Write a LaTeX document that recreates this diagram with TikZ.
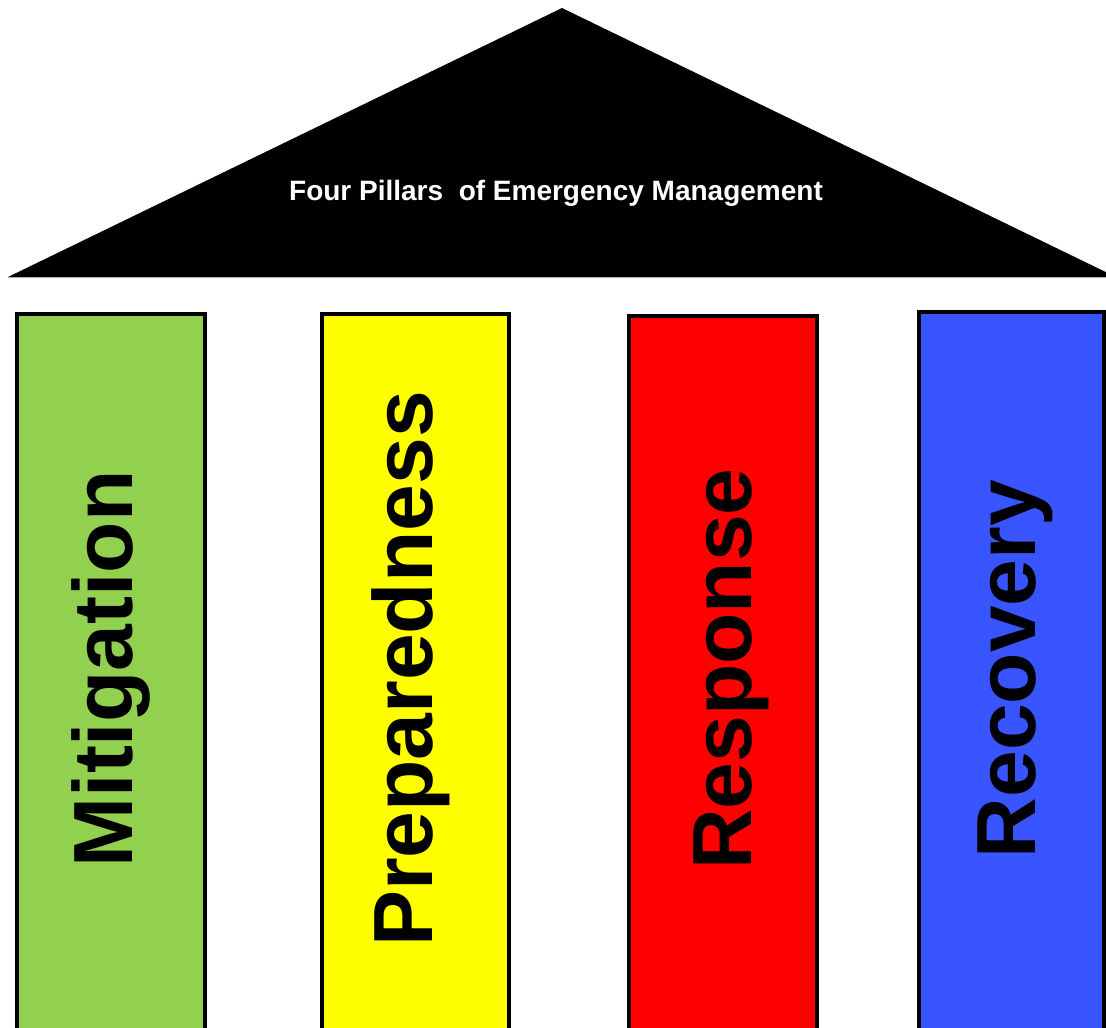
\documentclass[tikz,border=0pt]{standalone}
\usepackage{fontspec}
\setmainfont{Liberation Sans}
\usepackage{tikz}
\definecolor{mitigationgreen}{HTML}{92D050}
\definecolor{preparednessyellow}{HTML}{FFFF00}
\definecolor{responsered}{HTML}{FF0000}
\definecolor{recoveryblue}{HTML}{3955FF}
\tikzset{
	pillar/.style={line width=4pt, draw=black},
	pillarlabel/.style={rotate=90, anchor=base, inner sep=0pt, font=\fontsize{84}{84}\selectfont\bfseries}
}

\begin{document}
\begin{tikzpicture}[x=1pt, y=-1pt]
			%%%%% START %%%%%
			
			\useasboundingbox (0, 0) rectangle (1106, 1028);
			\clip (0, 0) rectangle (1106, 1028);
			
			\fill[black] (8, 277) -- (562, 8) -- (1116, 277) -- cycle;
			\draw[line width=1pt, color=black!30] (8, 277.5) -- (1106, 277.5);
			\node[text=white, inner sep=0pt, font=\fontsize{28}{28}\selectfont\bfseries] (roof) at (556, 193) {Four Pillars\ \ of Emergency Management};
			
			\draw[pillar, fill=mitigationgreen] (17, 1040) rectangle (205, 314);
			\node[pillarlabel] (mitigation) at (132, 669) {Mitigation};
			
			\draw[pillar, fill=preparednessyellow] (322, 1040) rectangle (509, 314);
			\node[pillarlabel] (preparedness) at (432, 669) {Preparedness};
			
			\draw[pillar, fill=responsered] (629, 1040) rectangle (817, 316);
			\node[pillarlabel] (response) at (751, 669) {Response};
			
			\draw[pillar, fill=recoveryblue] (919, 1040) rectangle (1104, 312);
			\node[pillarlabel] (recovery) at (1035, 669) {Recovery};
			
			%%%%% END %%%%%
\end{tikzpicture}
\end{document}
